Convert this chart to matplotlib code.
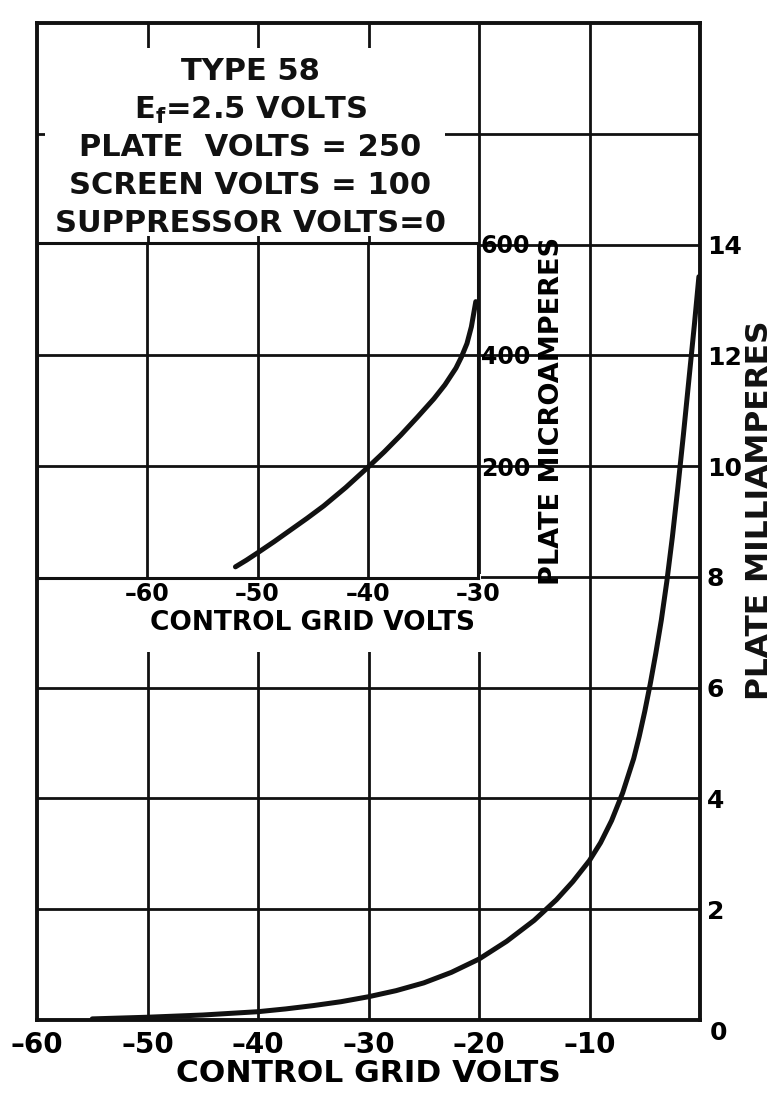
import matplotlib
matplotlib.use('Agg')
import matplotlib.pyplot as plt
from matplotlib.patches import Rectangle

plt.rcParams['font.family'] = 'DejaVu Sans'
plt.rcParams['font.weight'] = 'bold'
plt.rcParams['mathtext.fontset'] = 'dejavusans'

INK = '#111111'

# main curve: plate current (mA) vs control grid volts
grid_volts = [-55, -52.5, -50, -47.5, -45, -42.5, -40, -37.5, -35, -32.5, -30,
              -27.5, -25, -22.5, -20, -17.5, -15, -13, -11.5, -10, -9, -8, -7, -6,
              -5.5, -5, -4.5, -4, -3.5, -3, -2.5, -2, -1.5, -1, -0.5, -0.1]
plate_ma = [0.02, 0.035, 0.05, 0.07, 0.09, 0.12, 0.15, 0.2, 0.26, 0.33, 0.42,
            0.53, 0.67, 0.86, 1.1, 1.42, 1.8, 2.17, 2.5, 2.88, 3.2, 3.6, 4.1, 4.72,
            5.12, 5.57, 6.07, 6.62, 7.22, 7.92, 8.72, 9.62, 10.57, 11.57, 12.57, 13.42]

# inset: plate current (microamperes) at large negative grid bias
inset_volts = [-52, -51, -50, -48.5, -47, -45.5, -44, -42, -40, -38.5, -37,
               -35.5, -34, -33, -32, -31.5, -31, -30.6, -30.2]
inset_ua = [20, 32, 45, 65, 86, 107, 129, 162, 198, 226, 256,
            288, 321, 346, 376, 396, 420, 450, 495]

x_ticks = [-60, -50, -40, -30, -20, -10]
x_labels = ['\u201360', '\u201350', '\u201340', '\u201330', '\u201320', '\u201310']
y_ticks = [2, 4, 6, 8, 10, 12, 14]
inset_x_ticks = [-60, -50, -40, -30]
inset_x_labels = ['\u201360', '\u201350', '\u201340', '\u201330']
inset_y_ticks = [200, 400, 600]

info = ['TYPE 58', r'E$_{\mathbf{f}}$=2.5 VOLTS', 'PLATE  VOLTS = 250',
        'SCREEN VOLTS = 100', 'SUPPRESSOR VOLTS=0']

fig = plt.figure(figsize=(7.79, 10.94), dpi=100)
ax = fig.add_axes([37/779, 1-1020/1094, 663/779, 997/1094])
ax.set_xlim(-60, 0)
ax.set_ylim(0, 18)
for v in [-50, -40, -30, -20, -10]:
    ax.axvline(v, color=INK, lw=2, zorder=0.5)
for h in [2, 4, 6, 8, 10, 12, 14, 16]:
    ax.axhline(h, color=INK, lw=2, zorder=0.5)
for s in ax.spines.values():
    s.set_linewidth(2.8)
    s.set_color(INK)

ax.plot(grid_volts, plate_ma, color=INK, lw=3.6, solid_capstyle='round',
        solid_joinstyle='round', zorder=3)

ax.set_xticks(x_ticks)
ax.set_xticklabels(x_labels, fontsize=20, fontweight='bold')
ax.yaxis.tick_right()
ax.set_yticks(y_ticks)
ax.set_yticklabels([str(t) for t in y_ticks], fontsize=18, fontweight='bold')
ax.tick_params(axis='x', length=0, pad=8)
ax.tick_params(axis='y', length=0, pad=5)
ax.annotate('0', xy=(0, 0), xytext=(13, -9), textcoords='offset points',
            ha='center', va='center', fontsize=18, fontweight='bold')
ax.set_xlabel('CONTROL GRID VOLTS', fontsize=22.5, fontweight='bold', labelpad=0)
fig.text(759/779, 1-510/1094, 'PLATE MILLIAMPERES', rotation=90, ha='center',
         va='center', fontsize=22.5, fontweight='bold', color=INK)

# white areas that hide the grid behind the title block and the inset labels
ax.add_patch(Rectangle((-59.3, 14.15), 36.2, 3.4, facecolor='white',
                       edgecolor='none', zorder=1))
ax.add_patch(Rectangle((-60, 6.65), 40.15, 1.4, facecolor='white',
                       edgecolor='none', zorder=1))

ys = [17.12, 16.43, 15.75, 15.06, 14.38]
for txt, yy in zip(info, ys):
    ax.text(-40.7, yy, txt, ha='center', va='center', fontsize=22,
            fontweight='bold', color=INK, zorder=4)

# inset
ax2 = fig.add_axes([37/779, 1-578/1094, 441/779, 335/1094])
ax2.set_xlim(-70, -30)
ax2.set_ylim(0, 600)
for v in [-60, -50, -40]:
    ax2.axvline(v, color=INK, lw=2, zorder=0.5)
for h in [200, 400]:
    ax2.axhline(h, color=INK, lw=2, zorder=0.5)
for s in ax2.spines.values():
    s.set_linewidth(2.2)
    s.set_color(INK)
ax2.plot(inset_volts, inset_ua, color=INK, lw=3.6, solid_capstyle='round',
         solid_joinstyle='round', zorder=3)
ax2.set_xticks(inset_x_ticks)
ax2.set_xticklabels(inset_x_labels, fontsize=17, fontweight='bold')
ax2.yaxis.tick_right()
ax2.set_yticks(inset_y_ticks)
ax2.set_yticklabels([str(t) for t in inset_y_ticks], fontsize=17, fontweight='bold')
ax2.tick_params(axis='x', length=0, pad=3)
ax2.tick_params(axis='y', length=0, pad=2)
ax2.set_xlabel('CONTROL GRID VOLTS', fontsize=19, fontweight='bold')
ax2.xaxis.set_label_coords(0.625, -0.095)
ax2.yaxis.set_label_position('right')
ax2.set_ylabel('PLATE MICROAMPERES', fontsize=19.5, fontweight='bold', labelpad=6)

fig.savefig('out.png', dpi=100)
